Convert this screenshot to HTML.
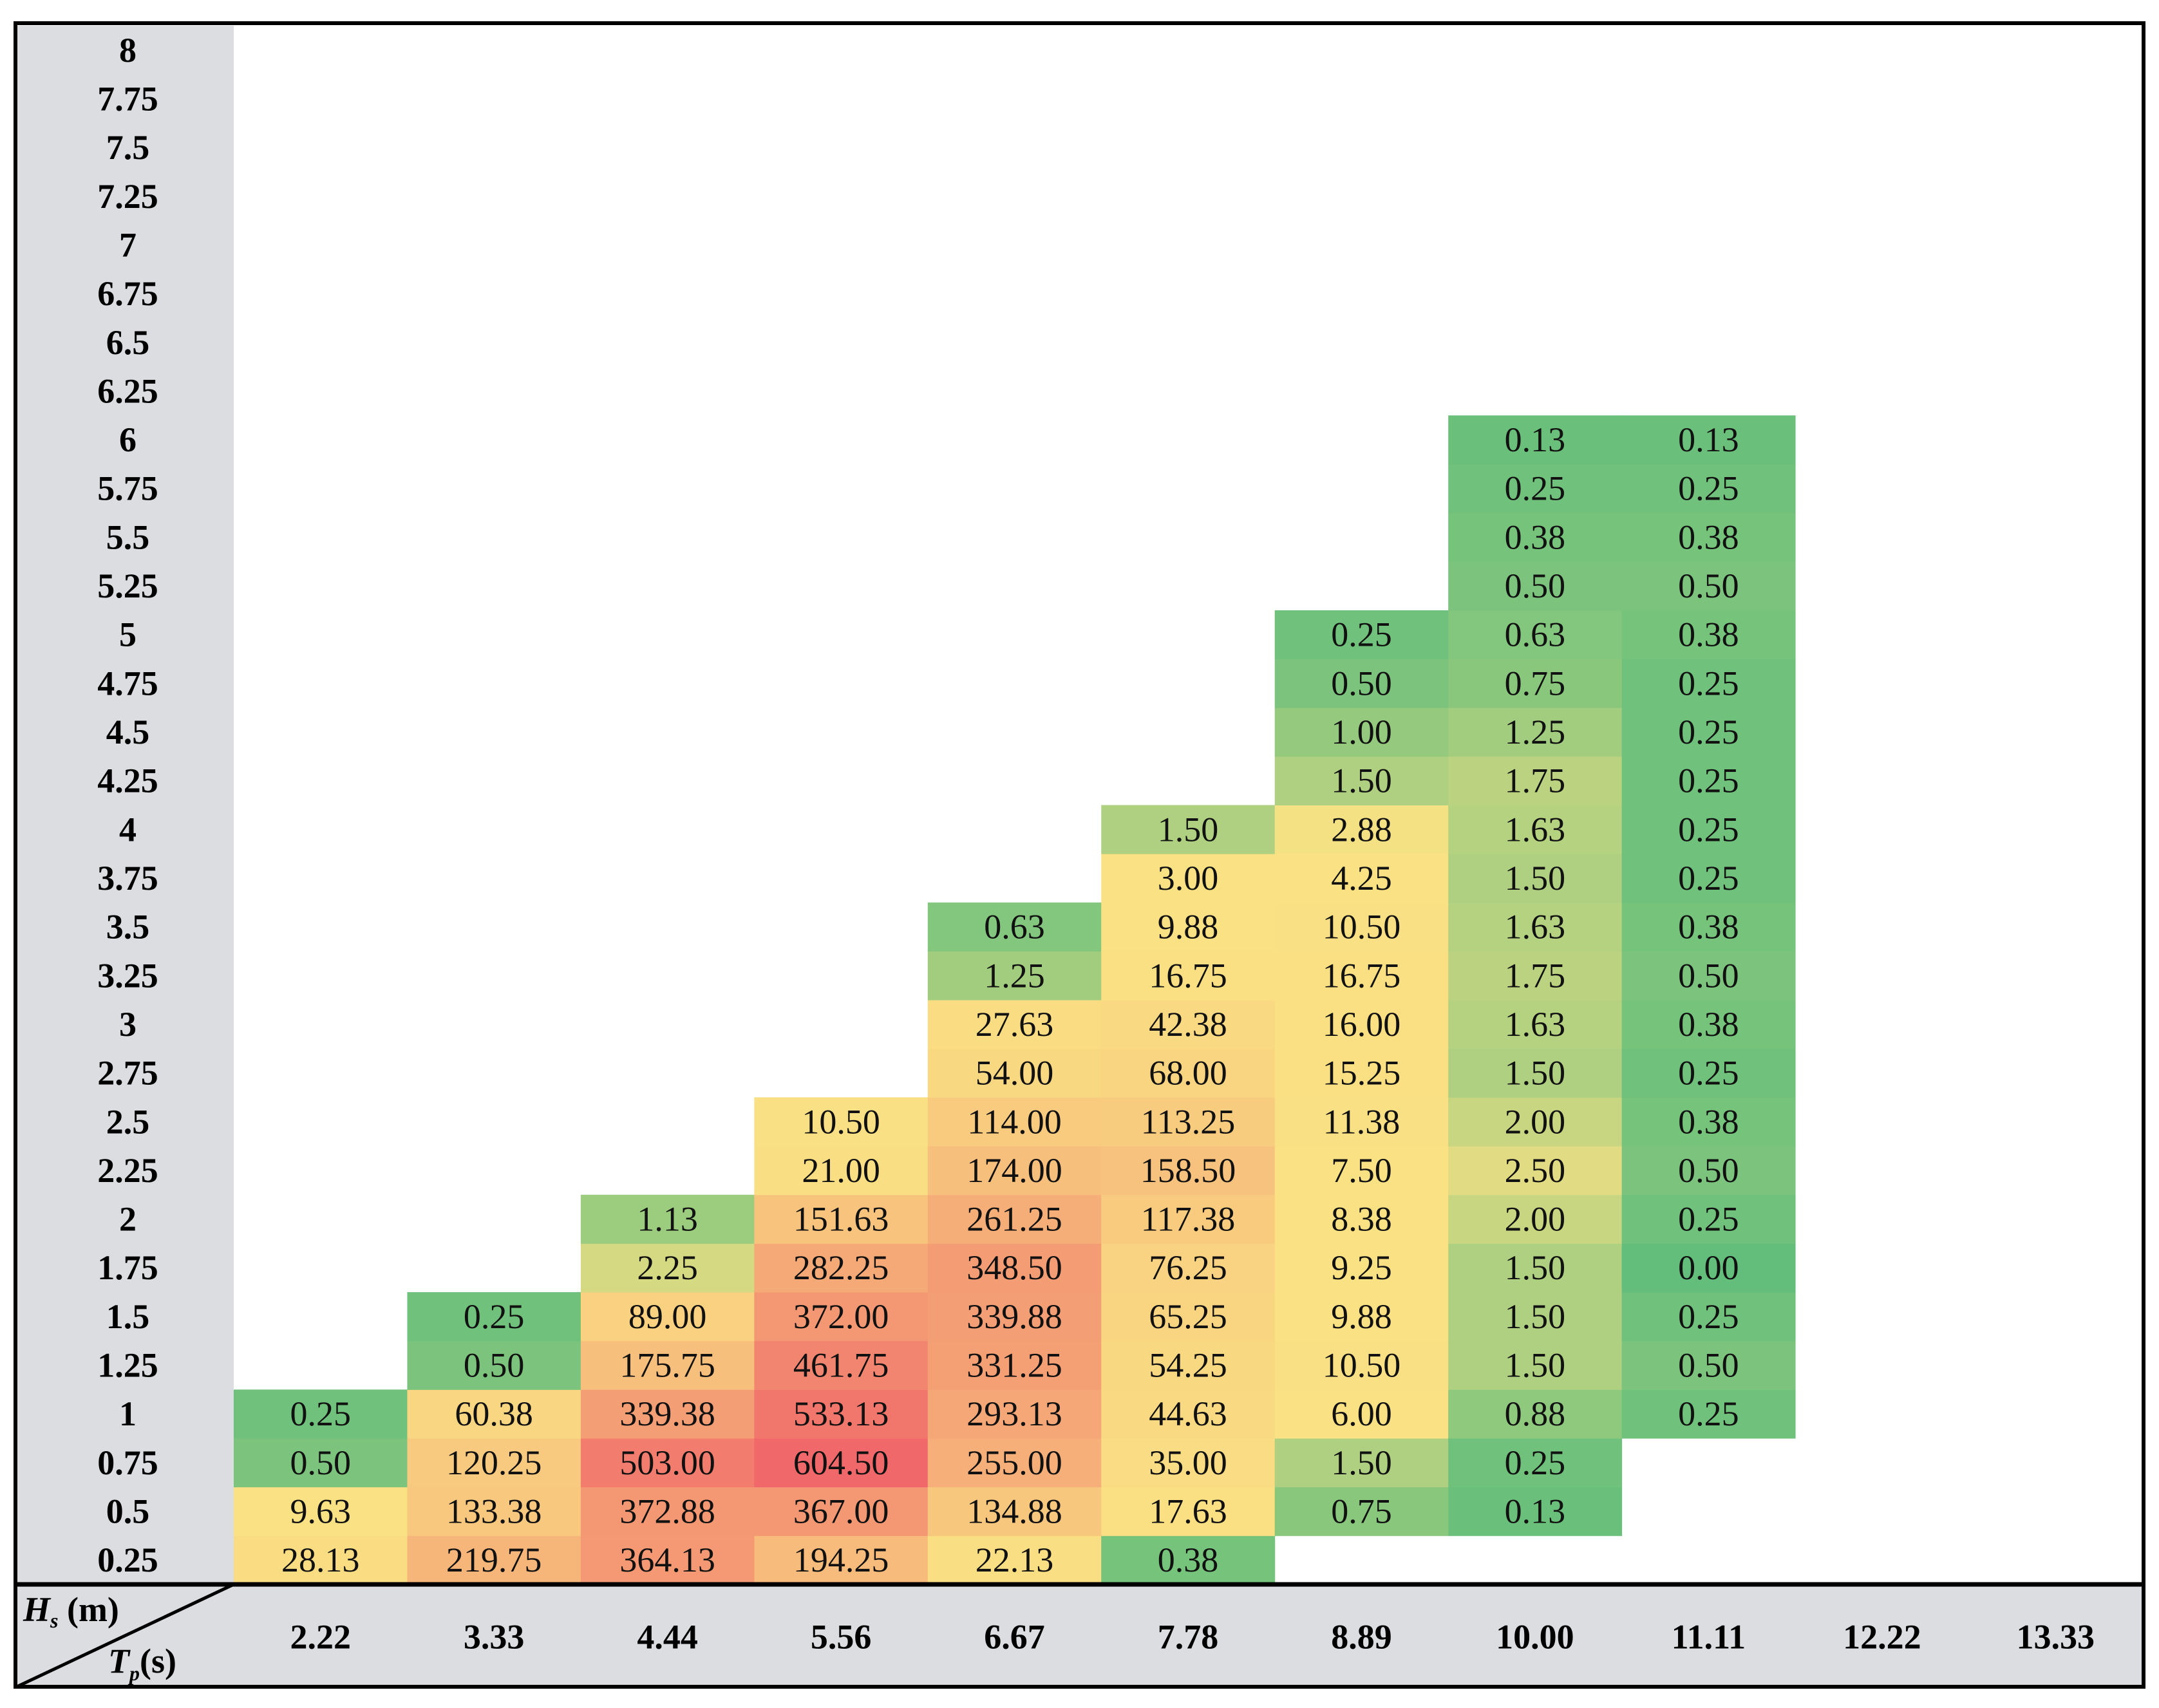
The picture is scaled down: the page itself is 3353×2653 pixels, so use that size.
<!DOCTYPE html>
<html><head><meta charset="utf-8"><style>
html,body{margin:0;padding:0;background:#fff;}
svg{display:block;}
text{font-family:"Liberation Serif",serif;}
</style></head><body>
<svg id="chart" width="3353" height="2653" viewBox="0 0 3353 2653" xmlns="http://www.w3.org/2000/svg">
<rect x="0" y="0" width="3353" height="2653" fill="#fff"/>
<g id="cells"></g>
<g id="labels"></g>
</svg>
<script>
const hsLabels = ["0.25","0.5","0.75","1","1.25","1.5","1.75","2","2.25","2.5","2.75","3","3.25","3.5","3.75","4","4.25","4.5","4.75","5","5.25","5.5","5.75","6","6.25","6.5","6.75","7","7.25","7.5","7.75","8"];
const tpLabels = ["2.22","3.33","4.44","5.56","6.67","7.78","8.89","10.00","11.11","12.22","13.33"];
const col0 = [28.13,9.63,0.50,0.25];
const col1 = [219.75,133.38,120.25,60.38,0.50,0.25];
const col2 = [364.13,372.88,503.00,339.38,175.75,89.00,2.25,1.13];
const col3 = [194.25,367.00,604.50,533.13,461.75,372.00,282.25,151.63,21.00,10.50];
const col4 = [22.13,134.88,255.00,293.13,331.25,339.88,348.50,261.25,174.00,114.00,54.00,27.63,1.25,0.63];
const col5 = [0.38,17.63,35.00,44.63,54.25,65.25,76.25,117.38,158.50,113.25,68.00,42.38,16.75,9.88,3.00,1.50];
const col6 = [null,0.75,1.50,6.00,10.50,9.88,9.25,8.38,7.50,11.38,15.25,16.00,16.75,10.50,4.25,2.88,1.50,1.00,0.50,0.25];
const col7 = [null,0.13,0.25,0.88,1.50,1.50,1.50,2.00,2.50,2.00,1.50,1.63,1.75,1.63,1.50,1.63,1.75,1.25,0.75,0.63,0.50,0.38,0.25,0.13];
const col8 = [null,null,null,0.25,0.50,0.25,0.00,0.25,0.50,0.38,0.25,0.38,0.50,0.38,0.25,0.25,0.25,0.25,0.25,0.38,0.50,0.38,0.25,0.13];
const columns = [col0,col1,col2,col3,col4,col5,col6,col7,col8,[],[]];

const NS="http://www.w3.org/2000/svg";
const L=26,R=3327,T=40,AX=2461,B=2620,GW=363;
const rowH=(AX-T)/hsLabels.length, colW=(R-GW)/tpLabels.length;
function xPos(i){return GW+i*colW;}
function yPos(r){return AX-(r+1)*rowH;}
const green=[99,190,123],yellow=[250,226,132],red=[240,104,105];
const mid=3.0,maxV=604.5;
function lerp(a,b,t){return a.map((v,i)=>Math.round(v+(b[i]-v)*t));}
function color(v){
  let c = v<=mid ? lerp(green,yellow,v/mid) : lerp(yellow,red,Math.min(1,(v-mid)/(maxV-mid)));
  return "rgb("+c.join(",")+")";
}
const cells=document.getElementById('cells'), labels=document.getElementById('labels');
function mk(tag,attrs,parent){const e=document.createElementNS(NS,tag);for(const k in attrs)e.setAttribute(k,attrs[k]);parent.appendChild(e);return e;}

const gc=mk('rect',{x:L,y:T,width:GW-L,height:AX-T,fill:"#dcdde0"},cells);


const gr=mk('rect',{x:L,y:AX,width:R-L,height:B-AX,fill:"#dcdde0"},cells);



columns.forEach((col,ci)=>{
  col.forEach((v,ri)=>{
    if(v===null) return;
    const r=mk('rect',{x:xPos(ci),y:yPos(ri),width:colW+0.5,height:rowH+0.5,fill:color(v)},cells);
    
    
    const t=mk('text',{x:xPos(ci)+colW/2,y:yPos(ri)+rowH/2+18,'text-anchor':'middle','font-size':54,fill:'#111'},cells);
    t.textContent=v.toFixed(2);
    
    
  });
});
hsLabels.forEach((s,i)=>{
  const t=mk('text',{x:(L+GW)/2+4,y:yPos(i)+rowH/2+18,'text-anchor':'middle','font-size':54,'font-weight':'bold',fill:'#000'},labels);
  t.textContent=s;
  
  
});
tpLabels.forEach((s,i)=>{
  const t=mk('text',{x:xPos(i)+colW/2,y:(AX+B)/2+20,'text-anchor':'middle','font-size':54,'font-weight':'bold',fill:'#000'},labels);
  t.textContent=s;
  
  
});
const h=mk('text',{x:36,y:2518,'font-size':54,'font-weight':'bold',fill:'#000'},labels);
h.innerHTML='<tspan font-style="italic">H</tspan><tspan font-style="italic" font-size="32" dy="10">s</tspan><tspan dy="-10"> (m)</tspan>';


const tp=mk('text',{x:168,y:2598,'font-size':54,'font-weight':'bold',fill:'#000'},labels);
tp.innerHTML='<tspan font-style="italic">T</tspan><tspan font-style="italic" font-size="32" dy="12">p</tspan><tspan dy="-12">(s)</tspan>';


const dl=mk('line',{x1:L,y1:B,x2:GW,y2:AX,stroke:'#000','stroke-width':5},labels);


const ax=mk('line',{x1:L,y1:AX,x2:R,y2:AX,stroke:'#000','stroke-width':7},labels);


const fr=mk('rect',{x:L-2,y:T-4,width:R-L+4,height:B-T+4,fill:'none',stroke:'#000','stroke-width':6},labels);


</script>
</body></html>
